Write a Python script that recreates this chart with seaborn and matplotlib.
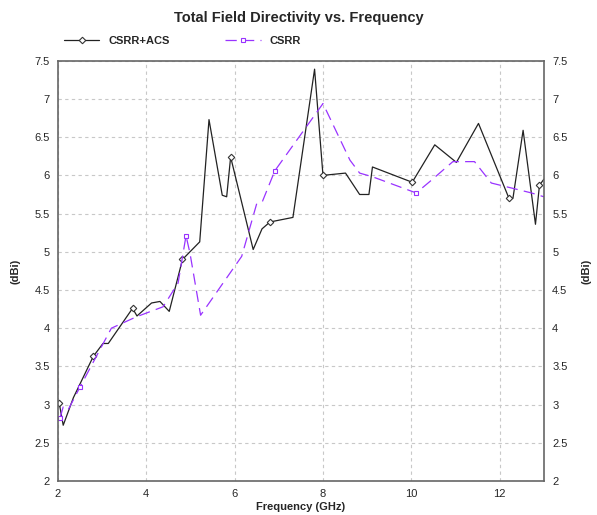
import numpy as np
import pandas as pd
import matplotlib
matplotlib.use("Agg")
import matplotlib.pyplot as plt
import seaborn as sns

# Data (frequency in GHz, directivity in dBi)
freq_acs = [2.03, 2.12, 2.35, 2.8, 3.02, 3.14, 3.69, 3.79, 4.12, 4.31, 4.52, 4.82,
            5.21, 5.42, 5.72, 5.82, 5.91, 6.42, 6.62, 6.8, 7.32, 7.81, 8.0, 8.51,
            8.83, 9.04, 9.12, 10.02, 10.53, 11.02, 11.52, 12.21, 12.3, 12.53,
            12.81, 12.9, 13.0]
dir_acs = [3.02, 2.73, 3.09, 3.63, 3.8, 3.8, 4.26, 4.16, 4.33, 4.35, 4.22, 4.9,
           5.13, 6.73, 5.74, 5.72, 6.24, 5.03, 5.3, 5.39, 5.45, 7.39, 6.0, 6.03,
           5.75, 5.75, 6.11, 5.91, 6.4, 6.17, 6.68, 5.7, 5.7, 6.59,
           5.36, 5.87, 5.95]
marks_acs = [0, 3, 6, 11, 16, 19, 22, 27, 31, 35]

freq_csrr = [2.05, 2.12, 2.23, 2.5, 3.21, 3.78, 4.38, 4.72, 4.9, 4.99, 5.23,
             6.16, 6.5, 6.63, 6.91, 8.0, 8.61, 8.83, 9.13, 10.11, 10.42, 10.94,
             11.43, 11.81, 12.72, 13.0]
dir_csrr = [2.83, 2.97, 2.93, 3.23, 4.0, 4.15, 4.28, 4.59, 5.21, 4.98, 4.17,
            4.94, 5.63, 5.66, 6.06, 6.94, 6.2, 6.03, 5.98, 5.77, 5.92, 6.18,
            6.18, 5.9, 5.77, 5.72]
marks_csrr = [0, 3, 8, 14, 19]

yticks = np.arange(2, 7.51, 0.5)
ytick_labels = ["2", "2.5", "3", "3.5", "4", "4.5", "5", "5.5", "6", "6.5", "7", "7.5"]
xticks = [2, 4, 6, 8, 10, 12]

df_acs = pd.DataFrame({"Frequency": freq_acs, "Directivity": dir_acs})
df_csrr = pd.DataFrame({"Frequency": freq_csrr, "Directivity": dir_csrr})

sns.set_style("white")
plt.rcParams["font.family"] = ["Liberation Sans", "DejaVu Sans"]

fig = plt.figure(figsize=(5.97, 5.15), dpi=100)
ax = fig.add_axes([0.097, 0.066, 0.814, 0.816])

sns.lineplot(data=df_acs, x="Frequency", y="Directivity", ax=ax, estimator=None,
             sort=False, color="#222222", linewidth=0.9, marker="D", markersize=3.3,
             markerfacecolor="white", markeredgecolor="#333333", markeredgewidth=0.8,
             markevery=marks_acs, label="CSRR+ACS")
sns.lineplot(data=df_csrr, x="Frequency", y="Directivity", ax=ax, estimator=None,
             sort=False, color="#9933ff", linewidth=0.9, linestyle=(0, (9, 5)),
             marker="s", markersize=3.5, markerfacecolor="white",
             markeredgecolor="#9933ff", markeredgewidth=0.8,
             markevery=marks_csrr, label="CSRR")

ax.set_xlim(2, 13)
ax.set_ylim(2, 7.5)
ax.set_xticks(xticks)
ax.set_xticklabels([str(t) for t in xticks])
ax.set_yticks(yticks)
ax.set_yticklabels(ytick_labels)
ax.grid(True, color="#c8c8c8", linestyle=(0, (3, 3)), linewidth=0.8)
ax.tick_params(axis="both", length=0, labelsize=8, pad=6)
for sp in ax.spines.values():
    sp.set_color("#666666")
    sp.set_linewidth(1.2)

ax.set_xlabel("Frequency (GHz)", fontsize=8, fontweight="bold", labelpad=2)
ax.set_ylabel("(dBi)", fontsize=8, fontweight="bold", labelpad=10)

ax2 = ax.twinx()
ax2.set_ylim(2, 7.5)
ax2.set_yticks(yticks)
ax2.set_yticklabels(ytick_labels)
ax2.tick_params(axis="y", length=0, labelsize=8, pad=6)
ax2.set_ylabel("(dBi)", fontsize=8, fontweight="bold", labelpad=10)
for sp in ax2.spines.values():
    sp.set_visible(False)

handles, labels = ax.get_legend_handles_labels()
ax.get_legend().remove()
fig.legend(handles, labels, loc="upper left", bbox_to_anchor=(0.09, 0.95),
           ncol=2, frameon=False, handlelength=3.2, columnspacing=5,
           prop={"size": 8, "weight": "bold"})

fig.suptitle("Total Field Directivity vs. Frequency", y=0.978, fontsize=10.5,
             fontweight="bold")

fig.savefig("out.png", dpi=100, facecolor="white")
